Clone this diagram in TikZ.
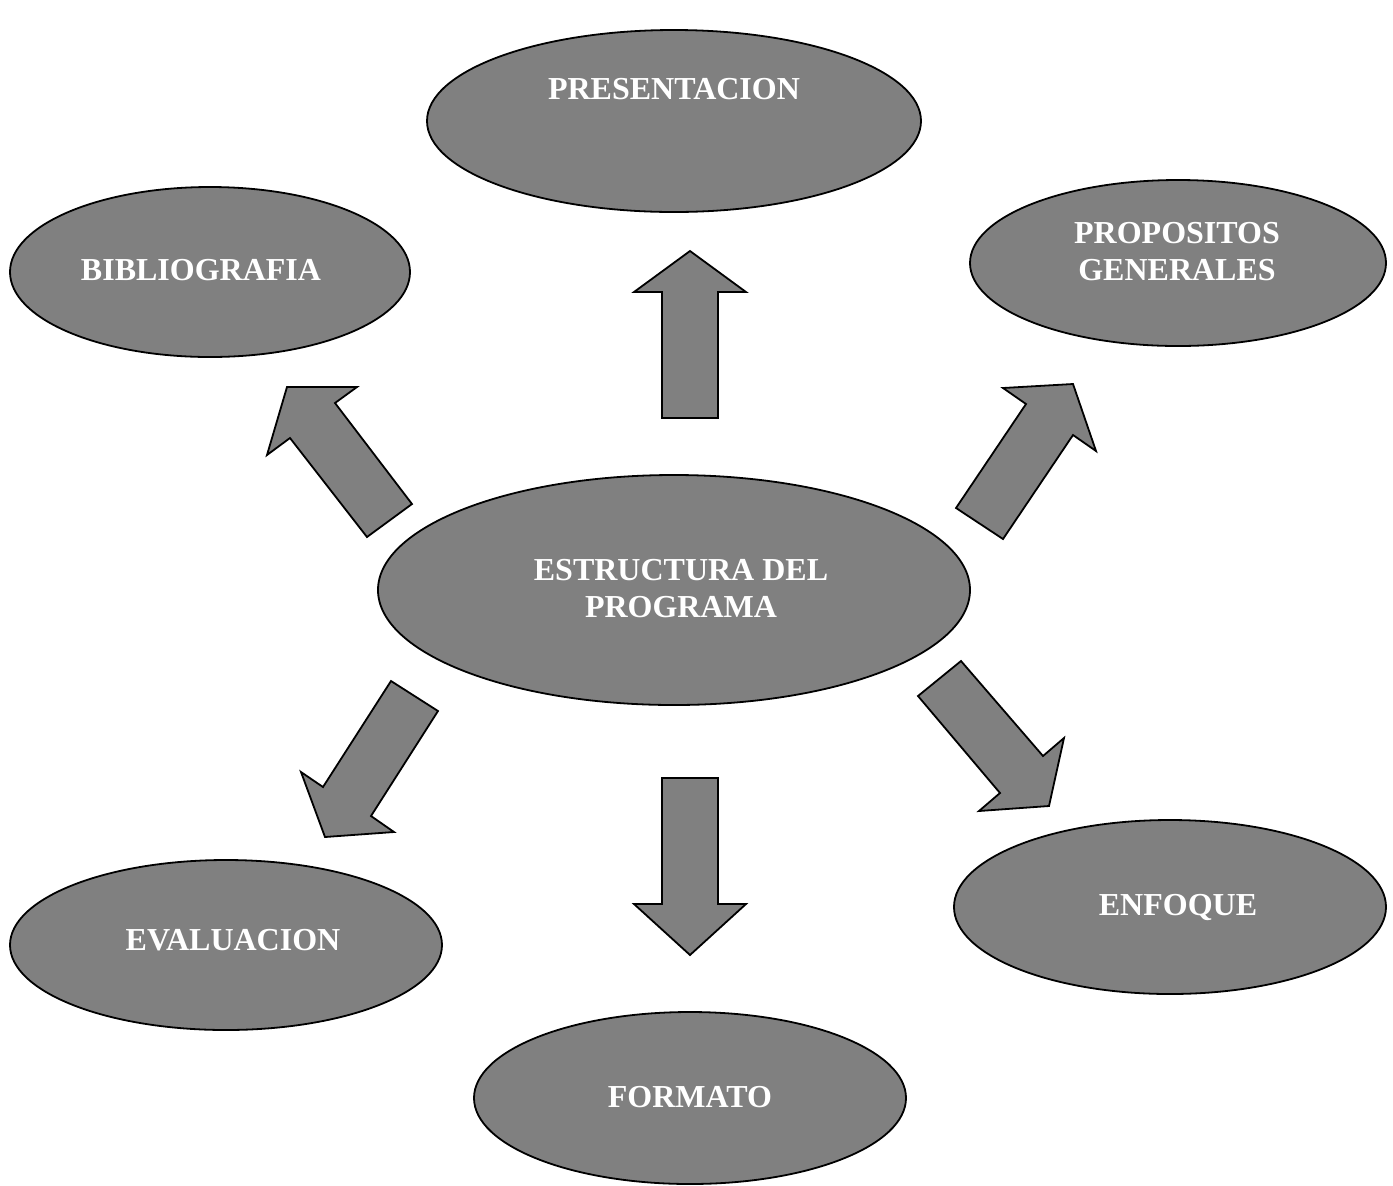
\documentclass[tikz,border=0pt]{standalone}
\usepackage{fontspec}
\setmainfont{Liberation Serif}
\usetikzlibrary{shapes.geometric}
\definecolor{fillgray}{HTML}{808080}
\begin{document}
\begin{tikzpicture}[x=0.5pt,y=-0.5pt,
  oval/.style={ellipse,draw=black,line width=0.9pt,fill=fillgray,inner sep=0pt},
  lbl/.style={text=white,font=\fontsize{16}{18.5}\selectfont\bfseries,align=center,inner sep=0pt,text depth=0pt,anchor=center},
  blockarrow/.style={draw=black,line width=0.9pt,fill=fillgray,line join=miter}]
\useasboundingbox (0,0) rectangle (1393,1185);
% ellipses
\node[oval,minimum width=247pt,minimum height=91pt] (pres) at (674,121) {};
\node[oval,minimum width=200pt,minimum height=85pt] (bib) at (210,272) {};
\node[oval,minimum width=208pt,minimum height=83pt] (prop) at (1178,263) {};
\node[oval,minimum width=296pt,minimum height=115pt] (est) at (674,590) {};
\node[oval,minimum width=216pt,minimum height=85pt] (eval) at (226,945) {};
\node[oval,minimum width=216pt,minimum height=87pt] (enf) at (1170,907) {};
\node[oval,minimum width=216pt,minimum height=86pt] (form) at (690,1098) {};
% labels
\node[lbl] (tpres) at (674,89) {PRESENTACION};
\node[lbl] (tbib) at (201,270) {BIBLIOGRAFIA};
\node[lbl] (tprop) at (1177,251.5) {PROPOSITOS\\GENERALES};
\node[lbl] (test) at (681,588.5) {ESTRUCTURA DEL\\PROGRAMA};
\node[lbl] (teval) at (233,940) {EVALUACION};
\node[lbl] (tenf) at (1178,905) {ENFOQUE};
\node[lbl] (tform) at (690,1097) {FORMATO};
% block arrows
\draw[blockarrow] (690,251) -- (746,292) -- (718,292) -- (718,418) -- (662,418) -- (662,292) -- (634,292) -- cycle;
\draw[blockarrow] (662,778) -- (718,778) -- (718,904) -- (746,904) -- (690,955) -- (634,904) -- (662,904) -- cycle;
\draw[blockarrow] (287,387) -- (357,387) -- (335,403) -- (412,504) -- (367,537) -- (290,438) -- (267,455) -- cycle;
\draw[blockarrow] (1073,384) -- (1096,451) -- (1073,435) -- (1003,539) -- (956,508) -- (1026,404) -- (1003,388) -- cycle;
\draw[blockarrow] (391,681) -- (438,711) -- (371,816) -- (394,832) -- (325,837) -- (301,772) -- (323,787) -- cycle;
\draw[blockarrow] (961,661) -- (1043,756) -- (1064,738) -- (1049,806) -- (979,811) -- (1000,793) -- (918,696) -- cycle;
\end{tikzpicture}
\end{document}
